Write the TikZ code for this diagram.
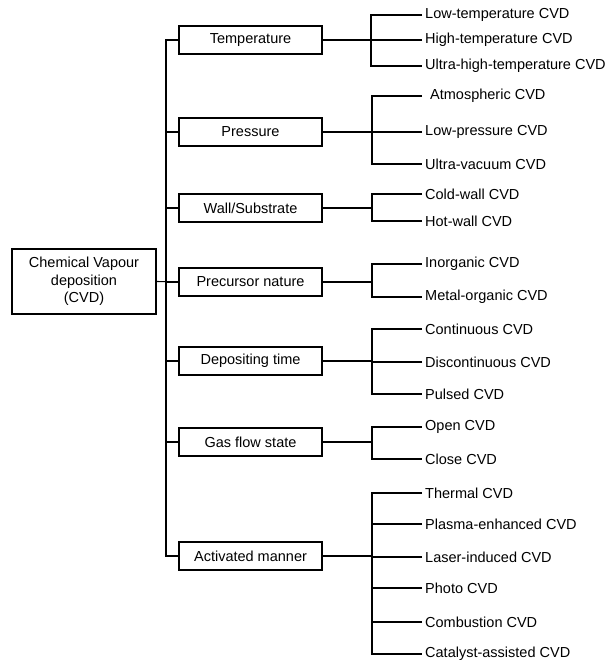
\documentclass[tikz,border=0pt]{standalone}
\usepackage{fontspec}
\setmainfont{Liberation Sans}
\usetikzlibrary{positioning}

\begin{document}
\begin{tikzpicture}[
    x=1pt, y=-1pt,
    font=\fontsize{14.5}{17.5}\selectfont,
    link/.style={line width=1.1pt},
    catbox/.style={draw, line width=1.1pt, minimum width=143pt, minimum height=28pt, inner sep=1pt},
    rootbox/.style={draw, line width=1.1pt, minimum width=144pt, minimum height=65pt, align=center, inner sep=1pt},
    leaf/.style={anchor=west, inner xsep=3pt, inner ysep=1pt},
]
\useasboundingbox (0,0) rectangle (606,661);

% root and categories
\node[rootbox] (cvd) at (84,281.5) {Chemical Vapour\\deposition\\(CVD)};
\node[catbox] (temp) at (250.5,40)  {Temperature};
\node[catbox] (pres) at (250.5,132) {Pressure};
\node[catbox] (wall) at (250.5,208) {Wall/Substrate};
\node[catbox] (prec) at (250.5,282) {Precursor nature};
\node[catbox] (dep)  at (250.5,361) {Depositing time};
\node[catbox] (gas)  at (250.5,442) {Gas flow state};
\node[catbox] (act)  at (250.5,556) {Activated manner};

\coordinate (trunk) at (166,0);
\draw[link] (temp.west) -| (trunk |- act.west) -- (act.west);
\foreach \c in {pres, wall, prec, dep, gas}
    \draw[link] (\c.west) -- (\c.west -| trunk);
\draw[link] (cvd.east) -- (prec.west);

% leaves
\node[leaf] (lowt)   at (422,15) {Low-temperature CVD};
\node[leaf] (hight)  at (422,40) {High-temperature CVD};
\node[leaf] (uhight) at (422,66) {Ultra-high-temperature CVD};

\node[leaf, inner xsep=8pt] (atm) at (422,96) {Atmospheric CVD};
\node[leaf] (lowp)  at (422,132) {Low-pressure CVD};
\node[leaf] (uvac)  at (422,164) {Ultra-vacuum CVD};

\node[leaf] (cold) at (422,194) {Cold-wall CVD};
\node[leaf] (hot)  at (422,221) {Hot-wall CVD};

\node[leaf] (inorg) at (422,264) {Inorganic CVD};
\node[leaf] (metal) at (422,297) {Metal-organic CVD};

\node[leaf] (cont)   at (422,329) {Continuous CVD};
\node[leaf] (discon) at (422,362) {Discontinuous CVD};
\node[leaf] (pulsed) at (422,394) {Pulsed CVD};

\node[leaf] (open)  at (422,427) {Open CVD};
\node[leaf] (close) at (422,459) {Close CVD};

\node[leaf] (therm)  at (422,493) {Thermal CVD};
\node[leaf] (plasma) at (422,524) {Plasma-enhanced CVD};
\node[leaf] (laser)  at (422,557) {Laser-induced CVD};
\node[leaf] (photo)  at (422,588) {Photo CVD};
\node[leaf] (comb)   at (422,622) {Combustion CVD};
\node[leaf] (cata)   at (422,654) {Catalyst-assisted CVD};

% brackets
\coordinate (tempj) at (371,40);
\coordinate (presj) at (372,132);
\coordinate (wallj) at (372,208);
\coordinate (precj) at (372,282);
\coordinate (depj)  at (372,361);
\coordinate (gasj)  at (372,442);
\coordinate (actj)  at (372,556);

\draw[link] (temp.east) -- (tempj);
\draw[link] (lowt.west) -| (tempj) |- (uhight.west);
\draw[link] (hight.west) -- (hight.west -| tempj);

\draw[link] (pres.east) -- (presj);
\draw[link] (atm.west) -| (presj) |- (uvac.west);
\draw[link] (lowp.west) -- (lowp.west -| presj);

\draw[link] (wall.east) -- (wallj);
\draw[link] (cold.west) -| (wallj) |- (hot.west);

\draw[link] (prec.east) -- (precj);
\draw[link] (inorg.west) -| (precj) |- (metal.west);

\draw[link] (dep.east) -- (depj);
\draw[link] (cont.west) -| (depj) |- (pulsed.west);
\draw[link] (discon.west) -- (discon.west -| depj);

\draw[link] (gas.east) -- (gasj);
\draw[link] (open.west) -| (gasj) |- (close.west);

\draw[link] (act.east) -- (actj);
\draw[link] (therm.west) -| (actj) |- (cata.west);
\foreach \l in {plasma, laser, photo, comb}
    \draw[link] (\l.west) -- (\l.west -| actj);
\end{tikzpicture}
\end{document}
